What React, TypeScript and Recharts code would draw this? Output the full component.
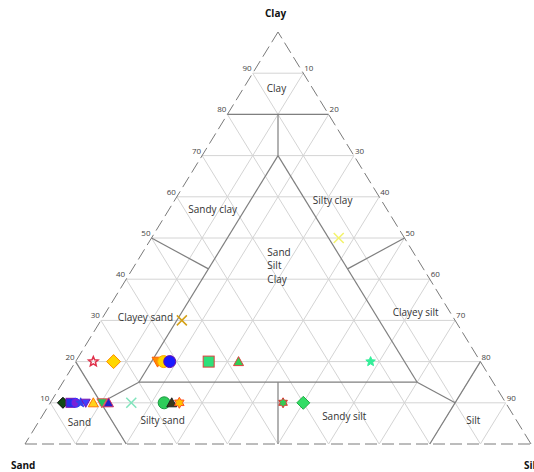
import React from 'react';
import { ScatterChart, Scatter, XAxis, YAxis, ReferenceLine } from 'recharts';

// Sample compositions in percent (sand + silt + clay = 100)
const sampleSand = [87.5, 86, 85, 84, 83, 81.5, 79.8, 78.5, 74, 67.5, 66, 64.5, 44, 40,
  76.5, 72.5, 63.8, 62.6, 61.4, 53.7, 47.8, 21.7, 54, 13];
const sampleSilt = [2.5, 4, 5, 6, 7, 8.5, 10.2, 11.5, 16, 22.5, 24, 25.5, 46, 50,
  3.5, 7.5, 16.2, 17.4, 18.6, 26.3, 32.2, 58.3, 16, 37];
const sampleClay = [10, 10, 10, 10, 10, 10, 10, 10, 10, 10, 10, 10, 10, 10,
  20, 20, 20, 20, 20, 20, 20, 20, 30, 50];

// marker look for each sample, same order as above
const sampleMarkers = [
  { kind: 'diamond', fill: '#0f4a14', stroke: '#000000', size: 11 },
  { kind: 'square', fill: '#2233e6', stroke: '#7a10b0', size: 9 },
  { kind: 'circle', fill: '#7a22d8', stroke: '#3030ff', size: 9 },
  { kind: 'star', fill: '#3344ee', stroke: '#3344ee', size: 10 },
  { kind: 'triangleDown', fill: '#4040ff', stroke: '#7a10b0', size: 9 },
  { kind: 'triangle', fill: '#ffd21a', stroke: '#ff7a00', size: 10 },
  { kind: 'triangleDown', fill: '#22c55e', stroke: '#e05050', size: 10 },
  { kind: 'triangle', fill: '#2222cc', stroke: '#d03060', size: 10 },
  { kind: 'cross', fill: 'none', stroke: '#80e4bc', size: 10 },
  { kind: 'circle', fill: '#2ecc5a', stroke: '#1a9a40', size: 12 },
  { kind: 'triangle', fill: '#3a3a1a', stroke: '#222222', size: 10 },
  { kind: 'hexagram', fill: '#ffc000', stroke: '#ff5020', size: 11 },
  { kind: 'hexagram', fill: '#33cc55', stroke: '#e03030', size: 10 },
  { kind: 'diamond', fill: '#33dd66', stroke: '#22aa44', size: 13 },
  { kind: 'star', fill: 'none', stroke: '#e0304a', size: 10 },
  { kind: 'diamond', fill: '#ffd700', stroke: '#ff8c00', size: 14 },
  { kind: 'triangleDown', fill: '#ff8c00', stroke: '#ff6000', size: 11 },
  { kind: 'circle', fill: '#ffd700', stroke: '#ffa500', size: 12 },
  { kind: 'circle', fill: '#1a1aff', stroke: '#6a0dad', size: 12 },
  { kind: 'square', fill: '#2ee07a', stroke: '#e04040', size: 11 },
  { kind: 'triangle', fill: '#33cc55', stroke: '#e04040', size: 10 },
  { kind: 'star', fill: '#33ee99', stroke: '#33ee99', size: 10 },
  { kind: 'cross', fill: 'none', stroke: '#d4a017', size: 10 },
  { kind: 'cross', fill: 'none', stroke: '#f3f36a', size: 10 },
];

const gridSteps = [10, 20, 30, 40, 50, 60, 70, 80, 90];

// class boundaries, each end as [sand, silt, clay]
const boundaries = [
  [[20, 0, 80], [0, 20, 80]],
  [[0, 80, 20], [20, 80, 0]],
  [[80, 0, 20], [80, 20, 0]],
  [[15, 15, 70], [70, 15, 15]],
  [[70, 15, 15], [15, 70, 15]],
  [[15, 70, 15], [15, 15, 70]],
  [[10, 10, 80], [15, 15, 70]],
  [[80, 10, 10], [70, 15, 15]],
  [[10, 80, 10], [15, 70, 15]],
  [[50, 0, 50], [42.5, 15, 42.5]],
  [[0, 50, 50], [15, 42.5, 42.5]],
  [[50, 50, 0], [42.5, 42.5, 15]],
];

// class names and where they sit, as [silt, clay]
const classNames = ['Clay', 'Sandy clay', 'Silty clay', 'Sand|Silt|Clay', 'Clayey sand',
  'Clayey silt', 'Silty sand', 'Sand', 'Sandy silt', 'Silt'];
const classAnchors = [[6.5, 86.4], [8.7, 56.8], [31.2, 59.2], [24.6, 46.6], [8.5, 30.6],
  [61.3, 31.8], [24.3, 5.8], [8.1, 5.3], [59.8, 6.6], [85.8, 5.6]];

const toXY = (silt: number, clay: number) => ({ x: silt / 100 + clay / 200, y: clay / 100 });
const tern = (p: number[]) => toXY(p[1], p[2]);

const samples = sampleSand.map((s, i) => ({
  ...toXY(sampleSilt[i], sampleClay[i]),
  sand: s,
  mk: sampleMarkers[i],
}));

const labels = classNames.map((name, i) => ({
  ...toXY(classAnchors[i][0], classAnchors[i][1]),
  name,
}));

const leftTicks = gridSteps.map((k) => ({ ...toXY(0, k), text: String(k), side: 'left' }));
const rightTicks = gridSteps.map((k) => ({ ...toXY(k, 100 - k), text: String(k), side: 'right' }));
const bottomTicks = gridSteps.map((k) => ({ ...toXY(100 - k, 0), text: String(k), side: 'bottom' }));

const FONT = '"Open Sans", "Liberation Sans", sans-serif';

const polyPoints = (pts: number[][]) => pts.map((p) => p.join(',')).join(' ');

const Marker = (props: any) => {
  const { cx, cy, payload } = props;
  const { kind, fill, stroke, size } = payload.mk;
  const r = size / 2;
  const common = { fill, stroke, strokeWidth: 1 };
  if (kind === 'circle') return <circle cx={cx} cy={cy} r={r} {...common} />;
  if (kind === 'square') return <rect x={cx - r} y={cy - r} width={size} height={size} {...common} />;
  if (kind === 'diamond')
    return <polygon points={polyPoints([[cx, cy - r], [cx + r, cy], [cx, cy + r], [cx - r, cy]])} {...common} />;
  if (kind === 'triangle')
    return <polygon points={polyPoints([[cx, cy - r], [cx + r, cy + r * 0.8], [cx - r, cy + r * 0.8]])} {...common} />;
  if (kind === 'triangleDown')
    return <polygon points={polyPoints([[cx, cy + r], [cx + r, cy - r * 0.8], [cx - r, cy - r * 0.8]])} {...common} />;
  if (kind === 'star' || kind === 'hexagram') {
    const n = kind === 'star' ? 5 : 6;
    const inner = kind === 'star' ? 0.45 : 0.58;
    const pts: number[][] = [];
    for (let i = 0; i < n * 2; i++) {
      const a = -Math.PI / 2 + (i * Math.PI) / n;
      const rr = i % 2 === 0 ? r : r * inner;
      pts.push([cx + rr * Math.cos(a), cy + rr * Math.sin(a)]);
    }
    return <polygon points={polyPoints(pts)} {...common} strokeWidth={kind === 'star' && fill === 'none' ? 1.5 : 1} />;
  }
  return (
    <g stroke={stroke} strokeWidth={1.5}>
      <line x1={cx - r} y1={cy - r} x2={cx + r} y2={cy + r} />
      <line x1={cx - r} y1={cy + r} x2={cx + r} y2={cy - r} />
    </g>
  );
};

const ClassLabel = (props: any) => {
  const { cx, cy, payload } = props;
  const parts = payload.name.split('|');
  if (parts.length > 1) {
    return (
      <text x={cx} y={cy} fontSize={10} fill="#333" fontFamily={FONT} dy="0.35em">
        {parts.map((p: string, i: number) => (
          <tspan key={p} x={cx} dy={i === 0 ? '0.35em' : 13.5}>{p}</tspan>
        ))}
      </text>
    );
  }
  return (
    <text x={cx} y={cy} dy="0.35em" textAnchor="middle" fontSize={10} fill="#333" fontFamily={FONT}>
      {payload.name}
    </text>
  );
};

const TickText = (props: any) => {
  const { cx, cy, payload } = props;
  const style = { fontSize: 8, fill: '#444', fontFamily: FONT };
  if (payload.side === 'left')
    return <text x={cx - 1} y={cy - 2} textAnchor="end" {...style}>{payload.text}</text>;
  if (payload.side === 'right')
    return <text x={cx + 1} y={cy - 2} textAnchor="start" {...style}>{payload.text}</text>;
  return <text x={cx} y={cy + 9} textAnchor="middle" {...style}>{payload.text}</text>;
};

const gridLines: { a: number[]; b: number[] }[] = [];
gridSteps.forEach((k) => {
  gridLines.push({ a: [100 - k, 0, k], b: [0, 100 - k, k] });
  gridLines.push({ a: [k, 0, 100 - k], b: [k, 100 - k, 0] });
  gridLines.push({ a: [0, k, 100 - k], b: [100 - k, k, 0] });
});

const frame = [
  [[100, 0, 0], [0, 100, 0]],
  [[0, 100, 0], [0, 0, 100]],
  [[0, 0, 100], [100, 0, 0]],
];

const titleStyle: React.CSSProperties = {
  position: 'absolute',
  fontFamily: FONT,
  fontWeight: 'bold',
  fontSize: 10,
  color: '#111',
  whiteSpace: 'nowrap',
};

export default function App() {
  return (
    <div style={{ position: 'absolute', left: 0, top: 0, width: 534, height: 472, overflow: 'hidden', background: '#fff' }}>
      <ScatterChart width={534} height={472} margin={{ top: 32, right: 3, bottom: 28, left: 25 }}>
        <XAxis type="number" dataKey="x" domain={[0, 1]} hide allowDataOverflow />
        <YAxis type="number" dataKey="y" domain={[0, 1]} hide allowDataOverflow />
        {gridLines.map((g, i) => (
          <ReferenceLine key={'g' + i} segment={[tern(g.a), tern(g.b)]} stroke="#d4d4d4" strokeWidth={1} ifOverflow="visible" />
        ))}
        {frame.map((f, i) => (
          <ReferenceLine key={'f' + i} segment={[tern(f[0]), tern(f[1])]} stroke="#7a7a7a" strokeWidth={1} strokeDasharray="12 5" ifOverflow="visible" />
        ))}
        {boundaries.map((b, i) => (
          <ReferenceLine key={'b' + i} segment={[tern(b[0]), tern(b[1])]} stroke="#7f7f7f" strokeWidth={1.2} ifOverflow="visible" />
        ))}
        <Scatter data={[...leftTicks, ...rightTicks, ...bottomTicks]} shape={(p: any) => <TickText {...p} />} isAnimationActive={false} />
        <Scatter data={labels} shape={(p: any) => <ClassLabel {...p} />} isAnimationActive={false} />
        <Scatter data={samples} shape={(p: any) => <Marker {...p} />} isAnimationActive={false} />
      </ScatterChart>
      <div style={{ ...titleStyle, left: 265, top: 6 }}>Clay</div>
      <div style={{ ...titleStyle, left: 11, top: 458 }}>Sand</div>
      <div style={{ ...titleStyle, left: 524, top: 458 }}>Silt</div>
    </div>
  );
}
